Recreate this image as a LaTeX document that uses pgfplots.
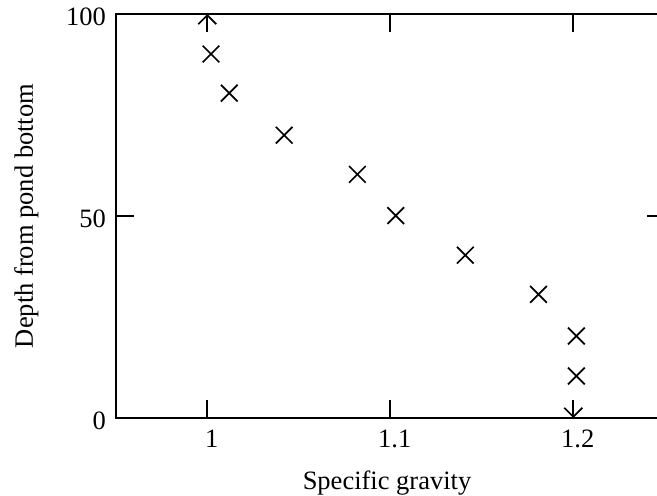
\documentclass[border=0pt]{standalone}
\usepackage{fontspec}
\setmainfont{Liberation Serif}
\usepackage{pgfplots}
\pgfplotsset{compat=1.18}
\usetikzlibrary{arrows.meta}
\begin{document}
\begin{tikzpicture}
\begin{axis}[
  scale only axis,
  width=549pt, height=404pt,
  xmin=0.95, xmax=1.25, ymin=0, ymax=100,
  clip=false,
  axis line style={line width=1.7pt},
  every tick/.style={line width=1.7pt, black},
  major tick length=18pt,
  tick align=inside,
  xtick={1,1.1,1.2}, xticklabels={1,1.1,1.2},
  ytick={0,50,100}, yticklabels={0,50,100},
  /pgf/number format/assume math mode=true,
  tick label style={font=\fontsize{26.5}{30}\selectfont},
  xticklabel style={yshift=-8pt, xshift=4.5pt},
  yticklabel style={xshift=-6.3pt, yshift=-3pt},
  xlabel={Specific gravity},
  ylabel={Depth from pond bottom},
  label style={font=\fontsize{26.5}{30}\selectfont},
  xlabel style={at={(axis description cs:0.494,-0.178)}, anchor=base},
  ylabel style={at={(axis description cs:-0.151,0.5)}, anchor=base, rotate=0},
]
\addplot[only marks, mark=x, mark size=11.8pt, line width=1.7pt, black] coordinates {
  (1.002,90.1) (1.012,80.4) (1.042,70.0) (1.082,60.3) (1.103,50.1)
  (1.141,40.3) (1.181,30.6) (1.2017,20.3) (1.2017,10.4)
};
\addplot[quiver={u=0, v=\thisrow{v}}, line width=1.7pt, black,
  -{Straight Barb[length=9pt, width=18pt, line width=1.7pt]}] table {
x y v
1.0 95.5 4.5
1.2 4.5 -4.5
};
\end{axis}
\pgfresetboundingbox
\path[use as bounding box] ([xshift=-115.8pt,yshift=-77pt]current axis.south west) rectangle ([xshift=-7.8pt,yshift=14pt]current axis.north east);
\end{tikzpicture}
\end{document}
